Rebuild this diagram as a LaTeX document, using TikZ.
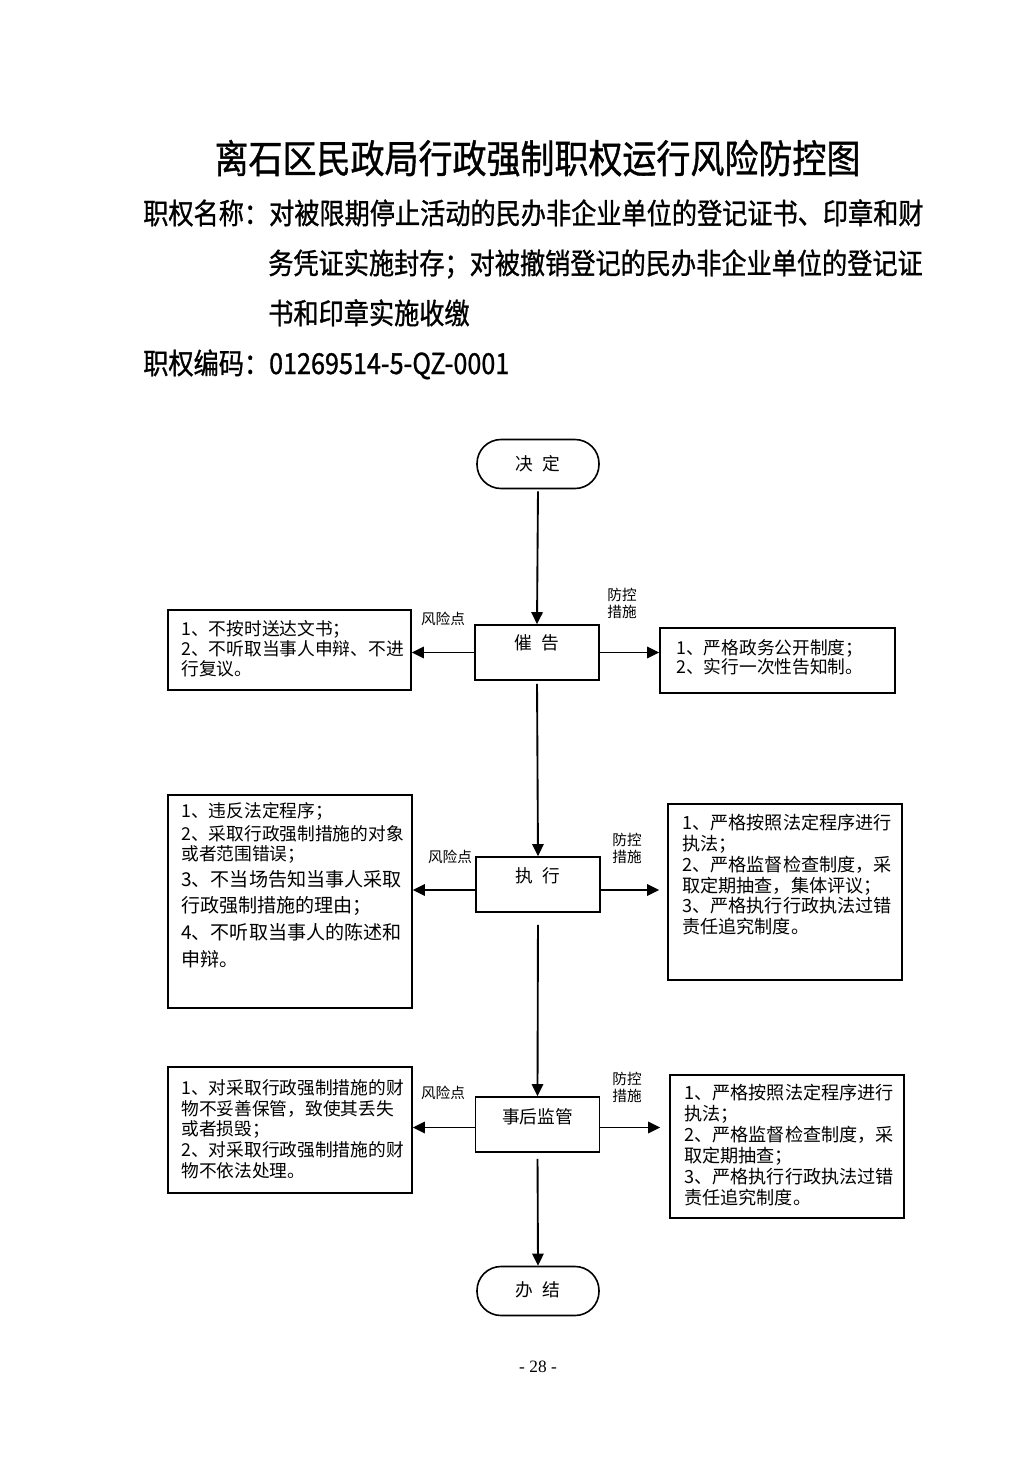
\documentclass[tikz,border=0pt]{standalone}
\usepackage{fontspec}
\setmainfont{Liberation Serif}
\newfontfamily\cjk{Noto Sans CJK SC}
\newfontfamily\cjknarrow[FakeStretch=0.87,FakeBold=1]{Noto Sans CJK SC}
\usetikzlibrary{arrows.meta}
\newcommand{\pxu}{0.75pt}
\tikzset{
  boxline/.style={draw, line width=1.2pt},
  stagebox/.style={boxline, minimum width=124*\pxu, minimum height=55*\pxu, inner sep=0pt},
  endbox/.style={boxline, minimum width=122*\pxu, minimum height=49*\pxu, inner sep=0pt, rounded corners=24*\pxu},
  stagetext/.style={inner sep=0pt, font=\cjk\fontsize{13.3pt}{15pt}\selectfont},
  infobox/.style={boxline, inner sep=0pt},
  infotext/.style={inner sep=0pt, anchor=north west, align=left, text width=#1*\pxu},
  smalllabel/.style={inner sep=0pt, align=center, font=\cjk\fontsize{11pt}{12.75pt}\selectfont},
  arr/.style={line width=1.4pt, -{Triangle[length=9pt,width=8.5pt]}},
  headline/.style={inner sep=0pt, anchor=base west, font=\cjknarrow\fontsize{21.7pt}{26pt}\selectfont}
}
\begin{document}
\begin{tikzpicture}[x=0.75pt,y=-0.75pt]
\useasboundingbox (0,0) rectangle (1033,1461);

% title and header
\node[inner sep=0pt, anchor=base, font=\cjknarrow\fontsize{29.3pt}{32pt}\selectfont] (title) at (537.5,173) {离石区民政局行政强制职权运行风险防控图};
\node[headline] (h1) at (143,224) {职权名称：对被限期停止活动的民办非企业单位的登记证书、印章和财};
\node[headline] (h2) at (268,274) {务凭证实施封存；对被撤销登记的民办非企业单位的登记证};
\node[headline] (h3) at (268,324) {书和印章实施收缴};
\node[headline] (h4) at (143,374) {职权编码：01269514-5-QZ-0001};

% main stages
\node[endbox] (jd) at (538,464) {};
\node[stagetext] (jdt) at (538,464) {决\hspace{7.5pt}定};
\node[stagebox] (cg) at (537,652.5) {};
\node[stagetext] (cgt) at (537,643) {催\hspace{7.5pt}告};
\node[stagebox] (zx) at (538,884.5) {};
\node[stagetext] (zxt) at (538,876) {执\hspace{7.5pt}行};
\node[stagebox] (sh) at (537.5,1124.5) {};
\node[stagetext] (sht) at (537.5,1117) {事后监管};
\node[endbox] (bj) at (538,1291) {};
\node[stagetext] (bjt) at (538,1290) {办\hspace{7.5pt}结};

% row 1 boxes
\node[infobox, minimum width=243*\pxu, minimum height=80*\pxu] (lb1) at (289.5,650) {};
\node[infotext=226, font=\cjk\fontsize{13.3pt}{15pt}\selectfont] (lb1t) at (181,620)
  {1、不按时送达文书；\\2、不听取当事人申辩、不进\\行复议。};
\node[infobox, minimum width=235*\pxu, minimum height=65*\pxu] (rb1) at (777.5,660.5) {};
\node[infotext=215, font=\cjk\fontsize{13.3pt}{14.25pt}\selectfont] (rb1t) at (676,639)
  {1、严格政务公开制度；\\2、实行一次性告知制。};

% row 2 boxes
\node[infobox, minimum width=244*\pxu, minimum height=213*\pxu] (lb2) at (290,901.5) {};
\node[infotext=228, font=\cjk\fontsize{13.3pt}{15pt}\selectfont] (lb2t) at (181,802)
  {1、违反法定程序；\\[2.25pt]2、采取行政强制措施的对象\\或者范围错误；\\[4.5pt]\fontsize{14.3pt}{15pt}\selectfont 3、不当场告知当事人采取\\[4.5pt]行政强制措施的理由；\\[5.25pt]4、不听取当事人的陈述和\\[5.25pt]申辩。};
\node[infobox, minimum width=234*\pxu, minimum height=176*\pxu] (rb2) at (785,892) {};
\node[infotext=218, font=\cjk\fontsize{13.6pt}{15.6pt}\selectfont] (rb2t) at (682,814)
  {1、严格按照法定程序进行\\执法；\\2、严格监督检查制度，采\\取定期抽查，集体评议；\\3、严格执行行政执法过错\\责任追究制度。};

% row 3 boxes
\node[infobox, minimum width=244*\pxu, minimum height=126*\pxu] (lb3) at (290,1130) {};
\node[infotext=228, font=\cjk\fontsize{13.3pt}{15.6pt}\selectfont] (lb3t) at (181,1079)
  {1、对采取行政强制措施的财\\物不妥善保管，致使其丢失\\或者损毁；\\2、对采取行政强制措施的财\\物不依法处理。};
\node[infobox, minimum width=234*\pxu, minimum height=143*\pxu] (rb3) at (787,1146.5) {};
\node[infotext=218, font=\cjk\fontsize{13.6pt}{15.75pt}\selectfont] (rb3t) at (684,1084)
  {1、严格按照法定程序进行\\执法；\\2、严格监督检查制度，采\\取定期抽查；\\3、严格执行行政执法过错\\责任追究制度。};

% labels
\node[smalllabel] (f1) at (443,619) {风险点};
\node[smalllabel] (c1) at (622,603.5) {防控\\措施};
\node[smalllabel] (f2) at (450,857) {风险点};
\node[smalllabel] (c2) at (627,848.5) {防控\\措施};
\node[smalllabel] (f3) at (443,1093) {风险点};
\node[smalllabel] (c3) at (627,1087.5) {防控\\措施};

% vertical flow
\draw[arr, shorten <=2*\pxu] (jd.south) -- (cg.north);
\draw[arr, shorten <=3*\pxu] (cg.south) -- (zx.north);
\draw[arr, shorten <=12*\pxu] (zx.south) -- (sh.north);
\draw[arr, shorten <=6*\pxu] (sh.south) -- (bj.north);

% horizontal arrows
\draw[arr] (cg.west) -- (cg.west -| lb1.east);
\draw[arr] (cg.east) -- (cg.east -| rb1.west);
\coordinate (r2l) at ([shift={(0,5.5)}]zx.west);
\coordinate (r2r) at ([shift={(0,5.5)}]zx.east);
\draw[arr] (r2l) -- (r2l -| lb2.east);
\draw[arr, shorten >=8*\pxu] (r2r) -- (r2r -| rb2.west);
\coordinate (r3l) at ([shift={(0,3)}]sh.west);
\coordinate (r3r) at ([shift={(0,3)}]sh.east);
\draw[arr] (r3l) -- (r3l -| lb3.east);
\draw[arr, shorten >=9*\pxu] (r3r) -- (r3r -| rb3.west);

% page number
\node[inner sep=0pt, font=\fontsize{13pt}{15pt}\selectfont] (pg) at (538,1367) {- 28 -};
\end{tikzpicture}
\end{document}
